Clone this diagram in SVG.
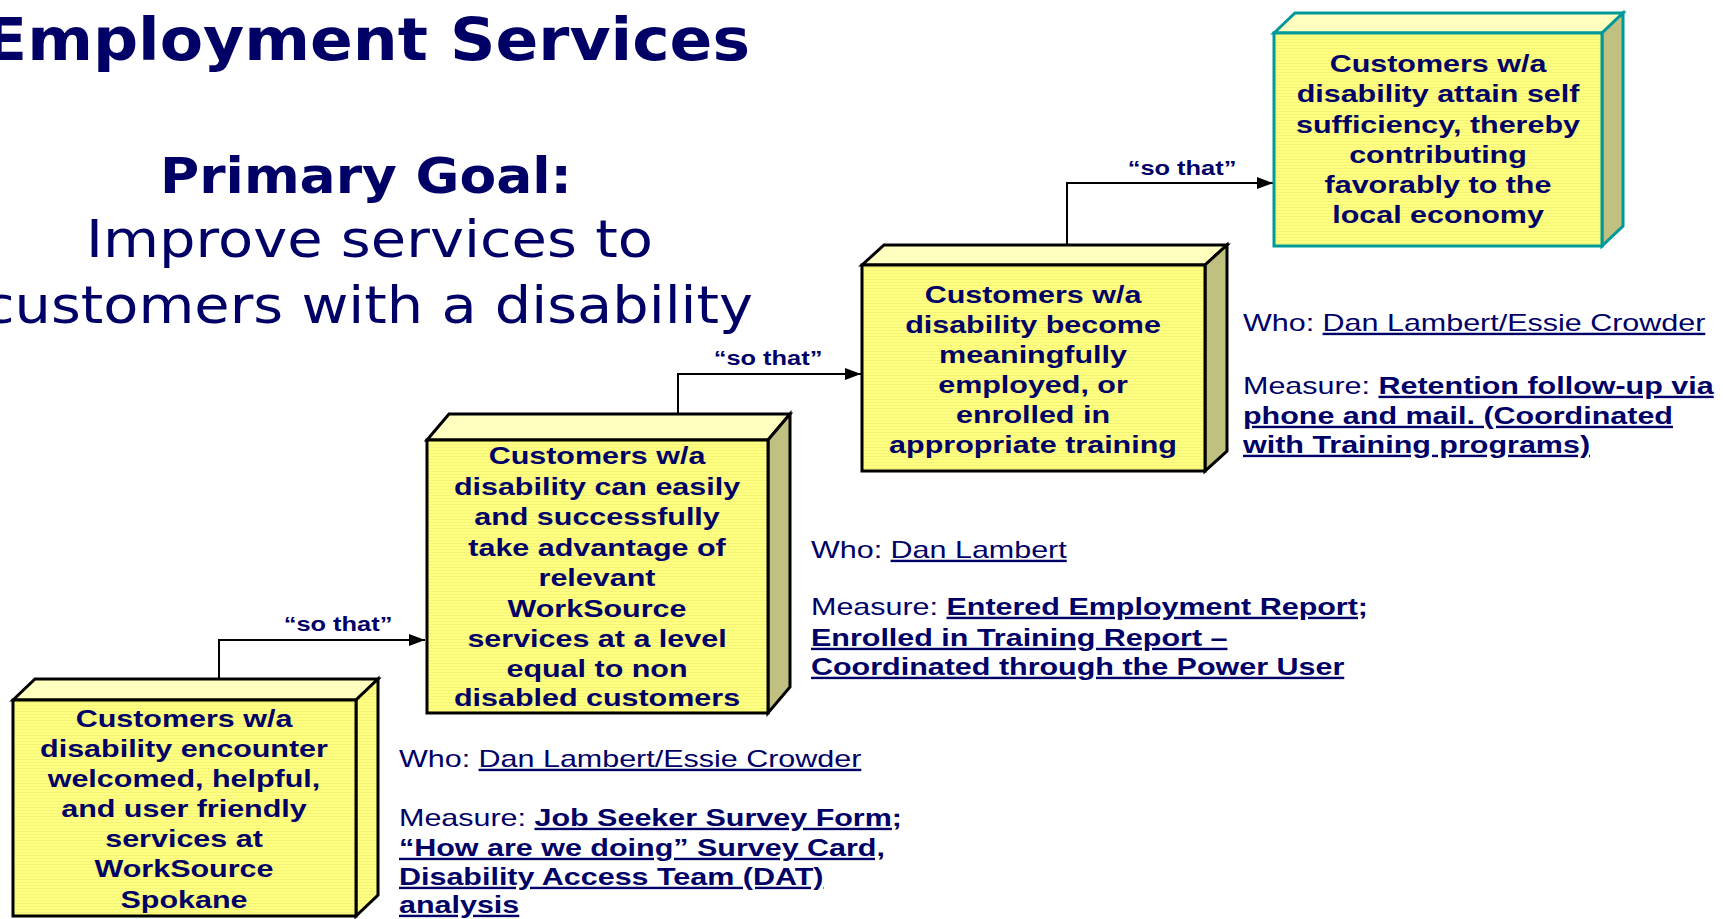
<svg xmlns="http://www.w3.org/2000/svg" width="1723" height="919" viewBox="0 0 1723 919">
<style>
.t{font-family:"Liberation Sans",Arial,sans-serif;fill:#000066}
.h{font-family:"DejaVu Sans","Liberation Sans",sans-serif;fill:#000066}
.bx{font-weight:bold;font-size:24px;text-anchor:middle}
.lbl{font-weight:bold;font-size:20px;text-anchor:middle}
.who{font-size:24px}
.b{font-weight:bold}
.u{text-decoration:underline;text-decoration-skip-ink:none}
.front{fill:url(#stripe);stroke:#000;stroke-width:3;stroke-linejoin:miter}
.top{fill:#FFFFC0;stroke:#000;stroke-width:3;stroke-linejoin:miter}
.side{fill:#C0C080;stroke:#000;stroke-width:3;stroke-linejoin:miter}
.sidey{fill:url(#stripe);stroke:#000;stroke-width:3;stroke-linejoin:miter}
.teal .front,.teal .top,.teal .side{stroke:#009999}
.conn{fill:none;stroke:#000;stroke-width:2;marker-end:url(#arr)}
</style>
<defs>
<pattern id="stripe" width="6" height="3" patternUnits="userSpaceOnUse">
<rect width="6" height="3" fill="#FFFF80"/>
<rect width="6" height="1" fill="#F4F47A"/>
</pattern>
<marker id="arr" markerWidth="16" markerHeight="12" refX="16" refY="6" orient="auto" markerUnits="userSpaceOnUse">
<path d="M0,0 L16,6 L0,12 z" fill="#000"/>
</marker>
</defs>
<rect width="1723" height="919" fill="#FFFFFF"/>

<g id="header">
<text class="h" x="-16" y="60" font-size="59" font-weight="bold" textLength="766" lengthAdjust="spacingAndGlyphs">Employment Services</text>
<text class="h" x="160" y="193" font-size="49" font-weight="bold" textLength="412" lengthAdjust="spacingAndGlyphs">Primary Goal:</text>
<text class="h" x="86" y="257" font-size="51" textLength="567" lengthAdjust="spacingAndGlyphs">Improve services to</text>
<text class="h" x="-17" y="323" font-size="51" textLength="770" lengthAdjust="spacingAndGlyphs">customers with a disability</text>
</g>

<g id="connectors">
<path class="conn" d="M219,679 V640 H425"/>
<path class="conn" d="M678,413 V374 H861"/>
<path class="conn" d="M1067,245 V183 H1273"/>
<g transform="translate(338 0) scale(1.27 1)"><text class="t lbl" x="0" y="631">“so that”</text></g>
<g transform="translate(768 0) scale(1.27 1)"><text class="t lbl" x="0" y="365">“so that”</text></g>
<g transform="translate(1182 0) scale(1.27 1)"><text class="t lbl" x="0" y="175">“so that”</text></g>
</g>

<g id="box1">
<polygon class="top" points="13,700 35,679 378,679 356,700"/>
<polygon class="sidey" points="356,700 378,679 378,895 356,916"/>
<rect class="front" x="13" y="700" width="343" height="216"/>
<g transform="translate(184 0) scale(1.27 1)">
<text class="t bx"><tspan x="0" y="727">Customers w/a</tspan><tspan x="0" y="757">disability encounter</tspan><tspan x="0" y="787">welcomed, helpful,</tspan><tspan x="0" y="817">and user friendly</tspan><tspan x="0" y="847">services at</tspan><tspan x="0" y="877">WorkSource</tspan><tspan x="0" y="908">Spokane</tspan></text>
</g>
</g>

<g id="box2">
<polygon class="top" points="427,440 449,414 790,414 768,440"/>
<polygon class="side" points="768,440 790,414 790,687 768,713"/>
<rect class="front" x="427" y="440" width="341" height="273"/>
<g transform="translate(597 0) scale(1.27 1)">
<text class="t bx"><tspan x="0" y="464">Customers w/a</tspan><tspan x="0" y="495">disability can easily</tspan><tspan x="0" y="525">and successfully</tspan><tspan x="0" y="556">take advantage of</tspan><tspan x="0" y="586">relevant</tspan><tspan x="0" y="617">WorkSource</tspan><tspan x="0" y="647">services at a level</tspan><tspan x="0" y="677">equal to non</tspan><tspan x="0" y="706">disabled customers</tspan></text>
</g>
</g>

<g id="box3">
<polygon class="top" points="862,265 884,245 1227,245 1205,265"/>
<polygon class="side" points="1205,265 1227,245 1227,451 1205,471"/>
<rect class="front" x="862" y="265" width="343" height="206"/>
<g transform="translate(1033 0) scale(1.27 1)">
<text class="t bx"><tspan x="0" y="303">Customers w/a</tspan><tspan x="0" y="333">disability become</tspan><tspan x="0" y="363">meaningfully</tspan><tspan x="0" y="393">employed, or</tspan><tspan x="0" y="423">enrolled in</tspan><tspan x="0" y="453">appropriate training</tspan></text>
</g>
</g>

<g id="box4" class="teal">
<polygon class="top" points="1274,33 1295,13 1623,13 1602,33"/>
<polygon class="side" points="1602,33 1623,13 1623,226 1602,246"/>
<rect class="front" x="1274" y="33" width="328" height="213"/>
<g transform="translate(1438 0) scale(1.27 1)">
<text class="t bx"><tspan x="0" y="72">Customers w/a</tspan><tspan x="0" y="102">disability attain self</tspan><tspan x="0" y="133">sufficiency, thereby</tspan><tspan x="0" y="163">contributing</tspan><tspan x="0" y="193">favorably to the</tspan><tspan x="0" y="223">local economy</tspan></text>
</g>
</g>

<g id="info1" transform="translate(399 0) scale(1.27 1)">
<text class="t who" x="0" y="767">Who: <tspan class="u">Dan Lambert/Essie Crowder</tspan></text>
<text class="t who" x="0" y="826">Measure: <tspan class="u b">Job Seeker Survey Form;</tspan></text>
<text class="t who b u" x="0" y="856">“How are we doing” Survey Card,</text>
<text class="t who b u" x="0" y="885">Disability Access Team (DAT)</text>
<text class="t who b u" x="0" y="913">analysis</text>
</g>

<g id="info2" transform="translate(811 0) scale(1.27 1)">
<text class="t who" x="0" y="558">Who: <tspan class="u">Dan Lambert</tspan></text>
<text class="t who" x="0" y="615">Measure: <tspan class="u b">Entered Employment Report;</tspan></text>
<text class="t who b u" x="0" y="646">Enrolled in Training Report –</text>
<text class="t who b u" x="0" y="675">Coordinated through the Power User</text>
</g>

<g id="info3" transform="translate(1243 0) scale(1.27 1)">
<text class="t who" x="0" y="331">Who: <tspan class="u">Dan Lambert/Essie Crowder</tspan></text>
<text class="t who" x="0" y="394">Measure: <tspan class="u b">Retention follow-up via</tspan></text>
<text class="t who b u" x="0" y="424">phone and mail. (Coordinated</text>
<text class="t who b u" x="0" y="453">with Training programs)</text>
</g>
</svg>
